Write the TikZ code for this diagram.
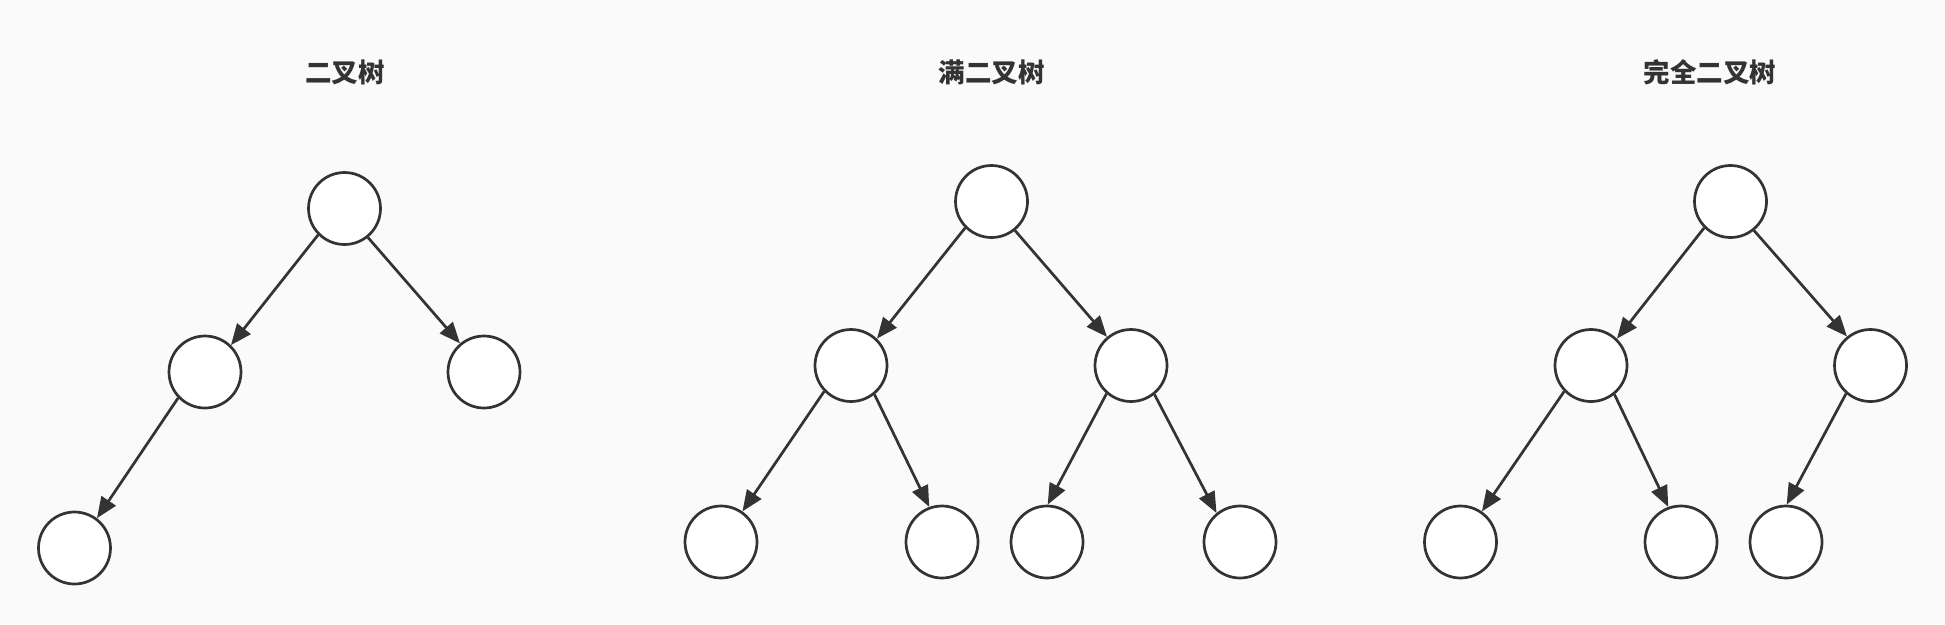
\documentclass[tikz,border=0pt]{standalone}
\usepackage{fontspec}
\newfontfamily\cjk{Noto Sans CJK SC}
\usetikzlibrary{arrows.meta}
\definecolor{ink}{HTML}{333333}
\definecolor{bg}{HTML}{FAFAFA}
\tikzset{
  tnode/.style={circle, draw=ink, fill=white, line width=2.7pt, minimum size=72pt, inner sep=0pt},
  title/.style={text=ink, font=\cjk\bfseries\fontsize{26.5pt}{30pt}\selectfont, inner sep=0pt},
  edge/.style={draw=ink, line width=2.7pt, -{Triangle[length=21pt,width=17pt]}}
}
\begin{document}
\begin{tikzpicture}[x=1pt,y=-1pt]
\fill[bg] (0,0) rectangle (1945,624);
\useasboundingbox (0,0) rectangle (1945,624);
% titles
\node[title] (t1) at (345,72) {二叉树};
\node[title] (t2) at (991.5,72) {满二叉树};
\node[title] (t3) at (1710,72) {完全二叉树};
% tree 1
\node[tnode] (a) at (344.5,208.5) {};
\node[tnode] (aL) at (205,372) {};
\node[tnode] (aR) at (484,372) {};
\node[tnode] (aLL) at (74.5,548) {};
\draw[edge] (a.225) -- (aL.46);
\draw[edge] (a.-51) -- (aR.130);
\draw[edge] (aL.224) -- (aLL.53);
% tree 2
\node[tnode] (b) at (991.5,201.5) {};
\node[tnode] (bL) at (851,365.5) {};
\node[tnode] (bR) at (1131,365.5) {};
\node[tnode] (bLL) at (721,542) {};
\node[tnode] (bLR) at (942,542) {};
\node[tnode] (bRL) at (1047,542) {};
\node[tnode] (bRR) at (1240,542) {};
\draw[edge] (b.225) -- (bL.46);
\draw[edge] (b.-51) -- (bR.130);
\draw[edge] (bL.224) -- (bLL.55);
\draw[edge] (bL.-51) -- (bLR.110);
\draw[edge] (bR.229) -- (bRL.89);
\draw[edge] (bR.-51) -- (bRR.129);
% tree 3
\node[tnode] (c) at (1730.5,201.5) {};
\node[tnode] (cL) at (1591,365.5) {};
\node[tnode] (cR) at (1870.5,365.5) {};
\node[tnode] (cLL) at (1460.5,542) {};
\node[tnode] (cLR) at (1681,542) {};
\node[tnode] (cRL) at (1786,542) {};
\draw[edge] (c.225) -- (cL.46);
\draw[edge] (c.-51) -- (cR.129);
\draw[edge] (cL.224) -- (cLL.55);
\draw[edge] (cL.-51) -- (cLR.110);
\draw[edge] (cR.229) -- (cRL.89);
\end{tikzpicture}
\end{document}
